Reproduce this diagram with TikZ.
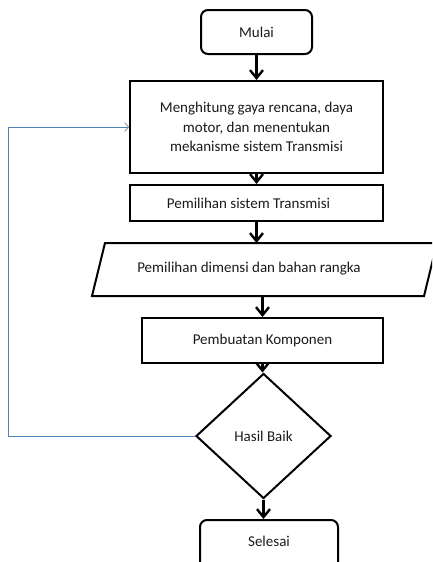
\documentclass[tikz,border=0pt]{standalone}
\usepackage{fontspec}
\setmainfont{Carlito}
\usetikzlibrary{shapes.geometric,arrows.meta}
\definecolor{fbblue}{HTML}{4F81BD}
\definecolor{txt}{HTML}{1A1A1A}
\begin{document}
\begin{tikzpicture}[x=1pt,y=-1pt,
  box/.style={draw,line width=2pt,align=center,inner sep=0pt,text=txt},
  term/.style={box,rounded corners=7pt},
  flow/.style={line width=2.4pt,-{Straight Barb[length=8pt,width=13pt,line width=2.4pt]}},
  fb/.style={draw=fbblue,line width=0.9pt,-{Straight Barb[length=4pt,width=9pt,line width=0.7pt,color=gray]}},
  font=\fontsize{15pt}{19.5pt}\selectfont]
\useasboundingbox (0,0) rectangle (432,562);
\clip (0,0) rectangle (432,562);
\node[term,minimum width=111pt,minimum height=44pt] (start) at (256.5,32) {Mulai};
\node[box,minimum width=253pt,minimum height=92pt] (box1) at (256.5,127)
  {Menghitung gaya rencana, daya\\motor, dan menentukan\\mekanisme sistem Transmisi};
\node[box,minimum width=253pt,minimum height=36pt] (box2) at (256.5,203) {Pemilihan sistem Transmisi\hspace*{16pt}};
\draw[line width=2pt] (105,243) -- (437,243) -- (424,296) -- (92,296) -- cycle;
\node[inner sep=0pt,text=txt] (para) at (249,268.5) {Pemilihan dimensi dan bahan rangka};
\coordinate (ptop) at (256.5,243);
\coordinate (pbot) at (262.5,296);
\node[box,minimum width=241pt,minimum height=45pt] (make) at (262.5,340.5) {Pembuatan Komponen};
\node[box,shape=diamond,aspect=1.08,minimum width=135pt,minimum height=125pt] (dec) at (263.5,436) {Hasil Baik};
\node[term,minimum width=138pt,minimum height=54pt] (end) at (269,547) {\raisebox{11pt}{Selesai}};
\draw[flow] (start.south) -- (box1.north);
\draw[flow] (box1.south) -- (box2.north);
\draw[flow] (box2.south) -- (ptop);
\draw[flow] (pbot) -- (make.north);
\draw[flow] (make.south) -- (make.south |- dec.north);
\draw[flow] (dec.south) -- (dec.south |- end.north);
\coordinate (fbx) at (8,436);
\draw[fb] (dec.west) -- (fbx) |- (box1.west);
\end{tikzpicture}
\end{document}
